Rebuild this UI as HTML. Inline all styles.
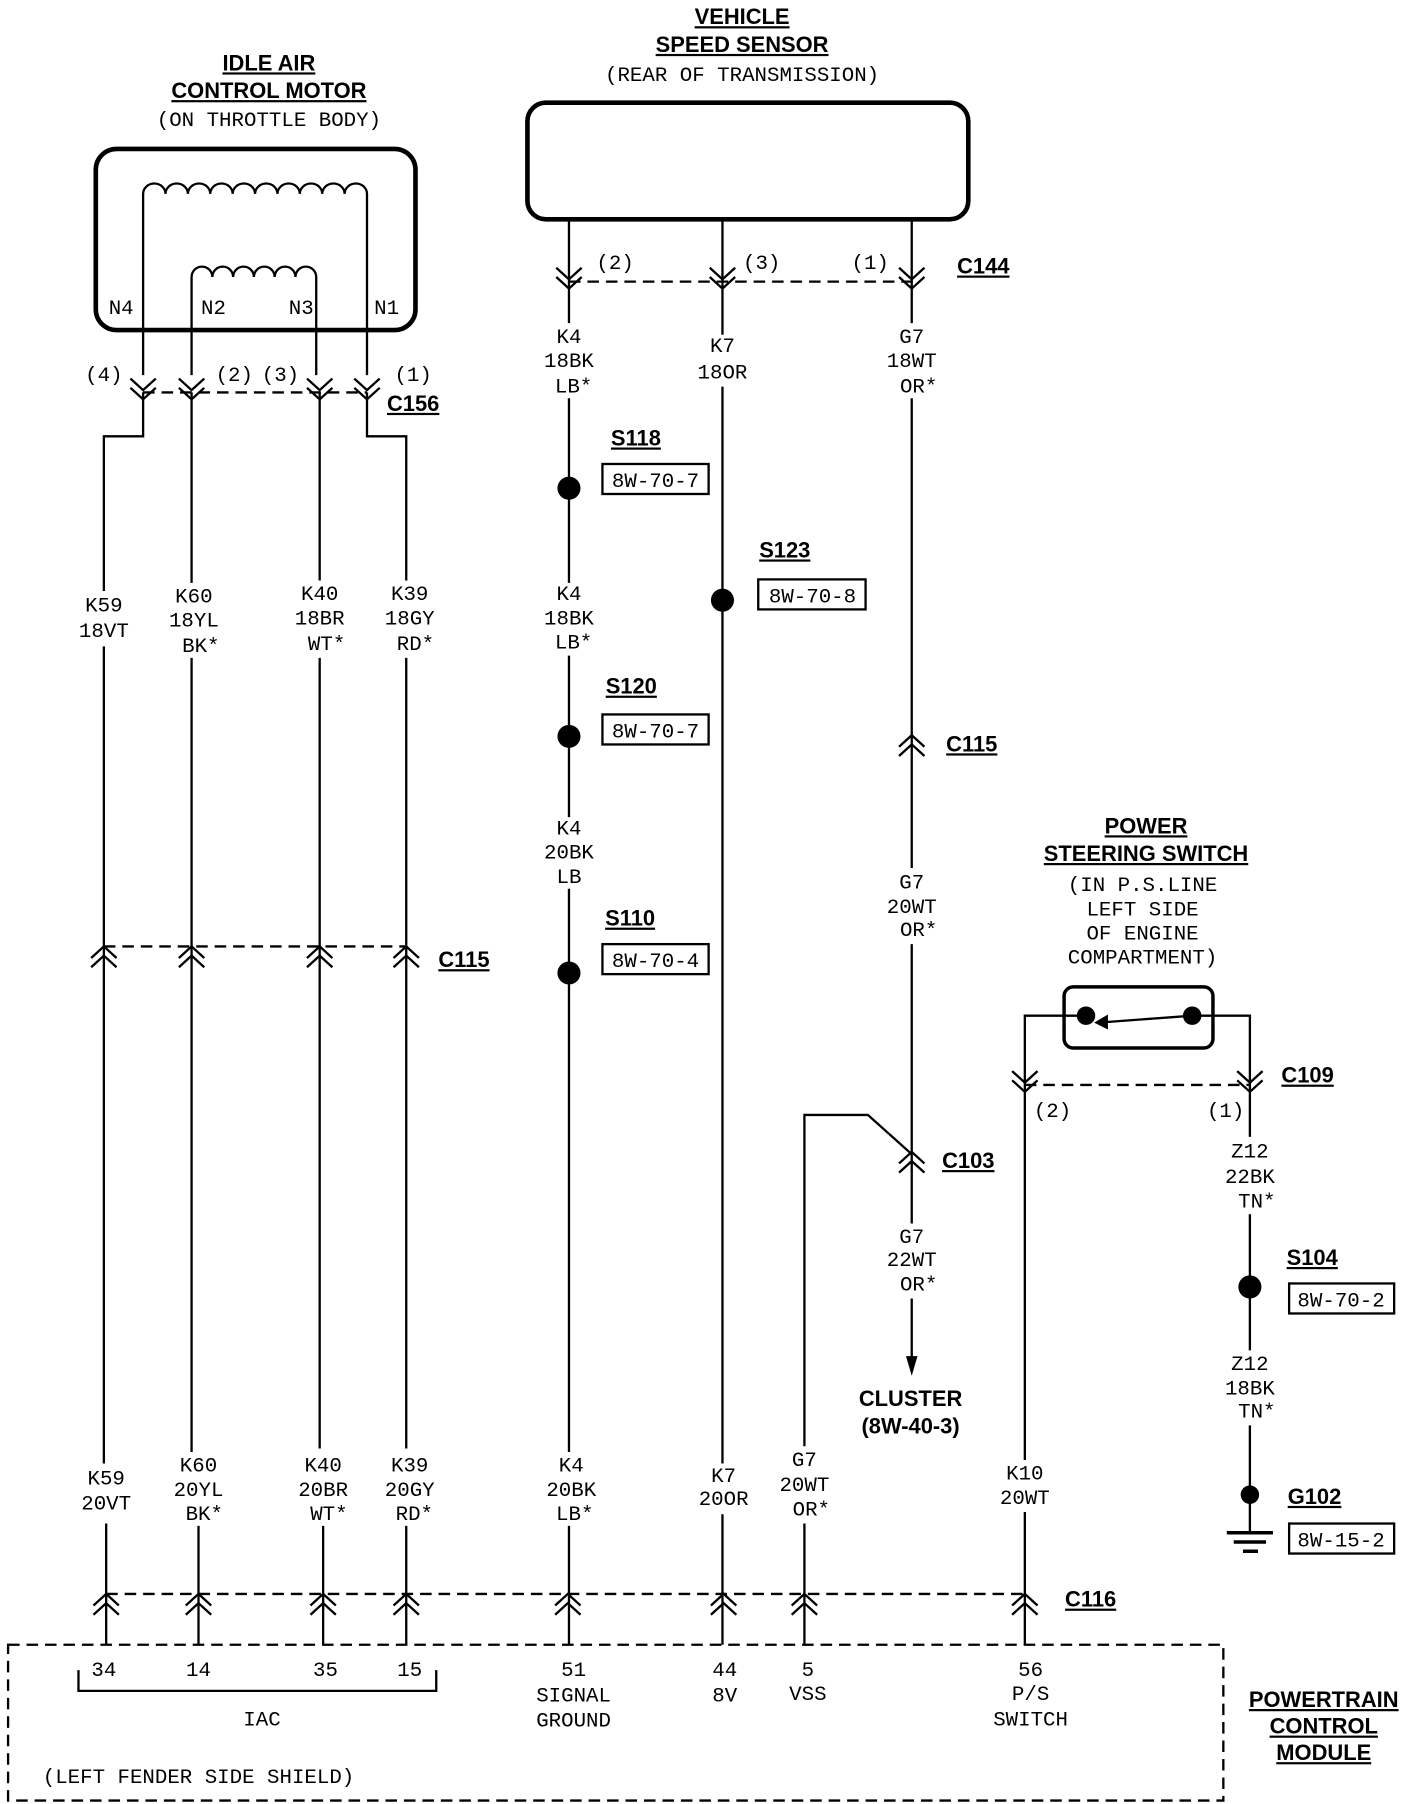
<!DOCTYPE html>
<html><head><meta charset="utf-8"><style>
html,body{margin:0;padding:0;background:#fff;}
svg{display:block;}
text{font-family:"Liberation Mono",monospace;font-size:18px;fill:#000;}
.b{font-family:"Liberation Sans",sans-serif;font-weight:bold;font-size:19px;text-decoration:underline;}
.c{font-family:"Liberation Sans",sans-serif;font-weight:bold;font-size:19px;}
</style></head><body>
<svg width="1408" height="1804" viewBox="0 0 1220 1563" preserveAspectRatio="none" xmlns="http://www.w3.org/2000/svg">
<defs>
<path id="dn" d="M-11,-12 L0,-2 L11,-12 M-11,-4 L0,6 L11,-4" fill="none" stroke="#000" stroke-width="2"/>
<path id="up" d="M-11,10 L0,0 L11,10 M-11,18 L0,8 L11,18" fill="none" stroke="#000" stroke-width="2"/>
</defs>
<g text-anchor="middle">
<text class="b" x="233" y="61">IDLE AIR</text>
<text class="b" x="233" y="85">CONTROL MOTOR</text>
<text x="233" y="109">(ON THROTTLE BODY)</text>
<text class="b" x="643" y="21">VEHICLE</text>
<text class="b" x="643" y="45">SPEED SENSOR</text>
<text x="643" y="70">(REAR OF TRANSMISSION)</text>
</g>
<g fill="none" stroke="#000" stroke-width="2">
<rect x="83" y="129" width="277" height="157" rx="18" stroke-width="4"/>
<path d="M124,325 V168 a9.7,9 0 0 1 19.4,0 a9.7,9 0 0 1 19.4,0 a9.7,9 0 0 1 19.4,0 a9.7,9 0 0 1 19.4,0 a9.7,9 0 0 1 19.4,0 a9.7,9 0 0 1 19.4,0 a9.7,9 0 0 1 19.4,0 a9.7,9 0 0 1 19.4,0 a9.7,9 0 0 1 19.4,0 a9.7,9 0 0 1 19.4,0 V325"/>
<path d="M166,325 V240 a9,9 0 0 1 18,0 a9,9 0 0 1 18,0 a9,9 0 0 1 18,0 a9,9 0 0 1 18,0 a9,9 0 0 1 18,0 a9,9 0 0 1 18,0 V325"/>
<path d="M124,340 H318" stroke-dasharray="10,6"/>
<path d="M124,340 V378 H90 V512 M166,340 V505 M166,570 V1258 M277,340 V503 M277,570 V1255 M318,340 V378 H352 V503 M352,570 V1255 M90,560 V1268"/>
<path d="M90,820 H352" stroke-dasharray="10,6"/>
<path d="M92,1320 V1425 M172,1322 V1425 M280,1322 V1425 M352,1322 V1425"/>
<rect x="457" y="89" width="382" height="101" rx="16" stroke-width="4"/>
<path d="M493,190 V280 M493,345 V505 M493,568 V708 M493,770 V1258 M493,1322 V1425"/>
<path d="M626,190 V290 M626,335 V1268 M626,1312 V1425"/>
<path d="M790,190 V280 M790,345 V752 M790,818 V1060 M790,1125 V1180"/>
<path d="M493,244 H790" stroke-dasharray="10,6"/>
<path d="M790,1000 L752,966 H697 V1253 M697,1320 V1425"/>
<path d="M92,1381 H888" stroke-dasharray="10,6"/>
<rect x="922" y="855" width="129" height="53" rx="8" stroke-width="3"/>
<path d="M941,880 H888 V1265 M888,1310 V1425 M1033,880 H1083 V985 M1083,1052 V1170 M1083,1235 V1328"/>
<path d="M1033,880 L952,886"/>
<path d="M888,940 H1083" stroke-dasharray="10,6"/>
<rect x="7" y="1425" width="1053" height="135" stroke-dasharray="10,6"/>
<path d="M68,1447 V1465 H378 V1447"/>
<rect x="522" y="402" width="92" height="26"/>
<rect x="522" y="619" width="92" height="26"/>
<rect x="522" y="818" width="92" height="26"/>
<rect x="657" y="502" width="93" height="26"/>
<rect x="1117" y="1112" width="91" height="26"/>
<rect x="1117" y="1320" width="91" height="26"/>
</g>
<path d="M948,886 L960,879 L960,892 Z" fill="#000"/>
<path d="M785,1175 L795,1175 L790,1192 Z" fill="#000"/>
<g stroke="#000" stroke-width="3">
<path d="M1063,1328 H1103 M1069,1336 H1097 M1077,1344 H1090"/>
</g>
<g fill="#000">
<circle cx="493" cy="423" r="10"/><circle cx="493" cy="638" r="10"/><circle cx="493" cy="843" r="10"/>
<circle cx="626" cy="520" r="10"/><circle cx="1083" cy="1115" r="10"/><circle cx="1083" cy="1295" r="8"/>
<circle cx="941" cy="880" r="8"/><circle cx="1033" cy="880" r="8"/>
</g>
<use href="#dn" x="124" y="340"/><use href="#dn" x="166" y="340"/><use href="#dn" x="277" y="340"/><use href="#dn" x="318" y="340"/>
<use href="#dn" x="493" y="244"/><use href="#dn" x="626" y="244"/><use href="#dn" x="790" y="244"/>
<use href="#dn" x="888" y="940"/><use href="#dn" x="1083" y="940"/>
<use href="#up" x="90" y="820"/><use href="#up" x="166" y="820"/><use href="#up" x="277" y="820"/><use href="#up" x="352" y="820"/>
<use href="#up" x="790" y="637"/><use href="#up" x="790" y="998"/>
<use href="#up" x="92" y="1381"/><use href="#up" x="172" y="1381"/><use href="#up" x="280" y="1381"/><use href="#up" x="352" y="1381"/>
<use href="#up" x="492" y="1381"/><use href="#up" x="627" y="1381"/><use href="#up" x="697" y="1381"/><use href="#up" x="888" y="1381"/>
<g text-anchor="middle">
<text x="105" y="272">N4</text><text x="185" y="272">N2</text><text x="261" y="272">N3</text><text x="335" y="272">N1</text>
<text x="90" y="330">(4)</text><text x="203" y="330">(2)</text><text x="243" y="330">(3)</text><text x="358" y="330">(1)</text>
<text class="b" x="358" y="356">C156</text>
<text class="b" x="402" y="838">C115</text>
<text x="90" y="530">K59</text><text x="90" y="552">18VT</text>
<text x="168" y="522">K60</text><text x="168" y="543">18YL</text><text x="174" y="565">BK*</text>
<text x="277" y="520">K40</text><text x="277" y="541">18BR</text><text x="283" y="563">WT*</text>
<text x="355" y="520">K39</text><text x="355" y="541">18GY</text><text x="360" y="563">RD*</text>
<text x="92" y="1286">K59</text><text x="92" y="1308">20VT</text>
<text x="172" y="1275">K60</text><text x="172" y="1296">20YL</text><text x="177" y="1317">BK*</text>
<text x="280" y="1275">K40</text><text x="280" y="1296">20BR</text><text x="285" y="1317">WT*</text>
<text x="355" y="1275">K39</text><text x="355" y="1296">20GY</text><text x="359" y="1317">RD*</text>
<text x="533" y="233">(2)</text><text x="660" y="233">(3)</text><text x="754" y="233">(1)</text>
<text class="b" x="852" y="237">C144</text>
<text x="493" y="297">K4</text><text x="493" y="318">18BK</text><text x="497" y="340">LB*</text>
<text class="b" x="551" y="386">S118</text><text x="568" y="422">8W-70-7</text>
<text x="493" y="520">K4</text><text x="493" y="541">18BK</text><text x="497" y="562">LB*</text>
<text class="b" x="547" y="601">S120</text><text x="568" y="639">8W-70-7</text>
<text x="493" y="723">K4</text><text x="493" y="744">20BK</text><text x="493" y="765">LB</text>
<text class="b" x="546" y="802">S110</text><text x="568" y="838">8W-70-4</text>
<text x="495" y="1275">K4</text><text x="495" y="1296">20BK</text><text x="498" y="1317">LB*</text>
<text x="626" y="305">K7</text><text x="626" y="328">18OR</text>
<text class="b" x="680" y="483">S123</text><text x="704" y="522">8W-70-8</text>
<text x="627" y="1284">K7</text><text x="627" y="1304">20OR</text>
<text x="790" y="297">G7</text><text x="790" y="318">18WT</text><text x="796" y="340">OR*</text>
<text class="b" x="842" y="651">C115</text>
<text x="790" y="770">G7</text><text x="790" y="791">20WT</text><text x="796" y="811">OR*</text>
<text class="b" x="839" y="1012">C103</text>
<text x="790" y="1077">G7</text><text x="790" y="1097">22WT</text><text x="796" y="1118">OR*</text>
<text class="c" x="789" y="1218">CLUSTER</text><text class="c" x="789" y="1242">(8W-40-3)</text>
<text x="697" y="1270">G7</text><text x="697" y="1292">20WT</text><text x="703" y="1313">OR*</text>
<text class="b" x="993" y="722">POWER</text><text class="b" x="993" y="746">STEERING SWITCH</text>
<text x="990" y="772">(IN P.S.LINE</text><text x="990" y="793">LEFT SIDE</text><text x="990" y="814">OF ENGINE</text><text x="990" y="835">COMPARTMENT)</text>
<text x="912" y="968">(2)</text><text x="1062" y="968">(1)</text>
<text class="b" x="1133" y="938">C109</text>
<text x="888" y="1282">K10</text><text x="888" y="1303">20WT</text>
<text x="1083" y="1003">Z12</text><text x="1083" y="1025">22BK</text><text x="1089" y="1046">TN*</text>
<text class="b" x="1137" y="1096">S104</text><text x="1162" y="1132">8W-70-2</text>
<text x="1083" y="1187">Z12</text><text x="1083" y="1208">18BK</text><text x="1089" y="1228">TN*</text>
<text class="b" x="1139" y="1303">G102</text><text x="1162" y="1340">8W-15-2</text>
<text class="b" x="945" y="1392">C116</text>
<text x="90" y="1452">34</text><text x="172" y="1452">14</text><text x="282" y="1452">35</text><text x="355" y="1452">15</text>
<text x="227" y="1495">IAC</text>
<text x="497" y="1452">51</text><text x="497" y="1474">SIGNAL</text><text x="497" y="1496">GROUND</text>
<text x="628" y="1452">44</text><text x="628" y="1474">8V</text>
<text x="700" y="1452">5</text><text x="700" y="1473">VSS</text>
<text x="893" y="1452">56</text><text x="893" y="1473">P/S</text><text x="893" y="1495">SWITCH</text>
<text x="172" y="1545">(LEFT FENDER SIDE SHIELD)</text>
<text class="b" x="1147" y="1479">POWERTRAIN</text><text class="b" x="1147" y="1502">CONTROL</text><text class="b" x="1147" y="1525">MODULE</text>
</g>
</svg>
</body></html>
